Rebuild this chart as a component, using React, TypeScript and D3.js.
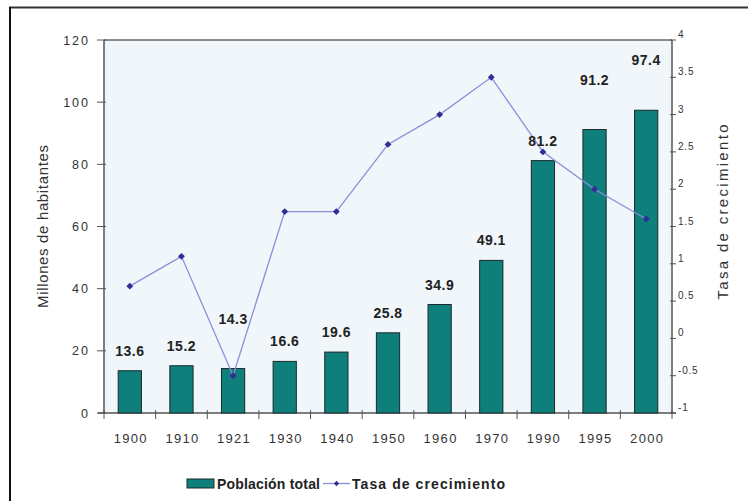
import React, { useEffect, useRef } from 'react'
import * as d3 from 'd3'

const years = ['1900', '1910', '1921', '1930', '1940', '1950', '1960', '1970', '1990', '1995', '2000']
const poblacion = [13.6, 15.2, 14.3, 16.6, 19.6, 25.8, 34.9, 49.1, 81.2, 91.2, 97.4]
const tasa = [0.7, 1.1, -0.5, 1.7, 1.7, 2.6, 3.0, 3.5, 2.5, 2.0, 1.6]
const leftTicks = [0, 20, 40, 60, 80, 100, 120]
const rightTicks = [-1, -0.5, 0, 0.5, 1, 1.5, 2, 2.5, 3, 3.5, 4]

const W = 748
const H = 501
const FONT = '"Liberation Sans", Arial, sans-serif'

export default function App() {
  const svgRef = useRef<SVGSVGElement>(null)

  useEffect(() => {
    const svg = d3.select(svgRef.current)
    svg.selectAll('*').remove()

    const m = { top: 40, right: 76, bottom: 88, left: 104 }
    const x0 = m.left, x1 = W - m.right, y0 = H - m.bottom, y1 = m.top

    const x = d3.scaleBand().domain(years).range([x0, x1]).paddingInner(0.55).paddingOuter(0.275)
    const xCell = d3.scaleBand().domain(years).range([x0, x1])
    const yL = d3.scaleLinear().domain([0, 120]).range([y0, y1])
    const yR = d3.scaleLinear().domain([-1, 4]).range([y0, y1])

    // outer frame (top + left only)
    svg.append('line').attr('x1', 9).attr('x2', W).attr('y1', 7.5).attr('y2', 7.5)
      .attr('stroke', '#333').attr('stroke-width', 2)
    svg.append('line').attr('x1', 10).attr('x2', 10).attr('y1', 7).attr('y2', H)
      .attr('stroke', '#111').attr('stroke-width', 2)

    // plot area
    svg.append('rect').attr('x', x0).attr('y', y1).attr('width', x1 - x0).attr('height', y0 - y1)
      .attr('fill', '#F0F6F9')
    svg.append('line').attr('x1', x0).attr('x2', x1).attr('y1', y1).attr('y2', y1)
      .attr('stroke', '#666').attr('stroke-width', 1.5)

    // left axis
    const gl = svg.append('g')
    gl.append('line').attr('x1', x0).attr('x2', x0).attr('y1', y1).attr('y2', y0).attr('stroke', '#555').attr('stroke-width', 1.5)
    leftTicks.forEach(t => {
      gl.append('line').attr('x1', x0 - 7).attr('x2', x0 + 2).attr('y1', yL(t)).attr('y2', yL(t)).attr('stroke', '#555')
      gl.append('text').attr('x', x0 - 14).attr('y', yL(t) + 4.5).attr('text-anchor', 'end')
        .attr('font-size', 12.5).attr('letter-spacing', 2).attr('fill', '#333').text(t)
    })
    gl.append('text').attr('transform', `translate(48,${(y0 + y1) / 2}) rotate(-90)`)
      .attr('text-anchor', 'middle').attr('font-size', 15).attr('fill', '#333')
      .attr('textLength', 163).attr('lengthAdjust', 'spacing').text('Millones de habitantes')

    // right axis
    const gr = svg.append('g')
    gr.append('line').attr('x1', x1).attr('x2', x1).attr('y1', y1).attr('y2', y0).attr('stroke', '#555').attr('stroke-width', 1.5)
    rightTicks.forEach(t => {
      gr.append('line').attr('x1', x1 - 2).attr('x2', x1 + 4).attr('y1', yR(t)).attr('y2', yR(t)).attr('stroke', '#555')
      gr.append('text').attr('x', x1 + 6).attr('y', yR(t) - 2).attr('font-size', 10)
        .attr('letter-spacing', 0.8).attr('fill', '#333').text(String(t))
    })
    gr.append('text').attr('transform', `translate(728,${212}) rotate(-90)`)
      .attr('text-anchor', 'middle').attr('font-size', 15).attr('fill', '#333')
      .attr('textLength', 175).attr('lengthAdjust', 'spacing').text('Tasa de crecimiento')

    // bottom axis
    const gb = svg.append('g')
    gb.append('line').attr('x1', x0 - 6).attr('x2', x1 + 4).attr('y1', y0).attr('y2', y0).attr('stroke', '#555').attr('stroke-width', 1.5)
    const bounds = years.map(y => xCell(y) as number).concat([x1])
    bounds.forEach(b => {
      gb.append('line').attr('x1', b).attr('x2', b).attr('y1', y0 - 3).attr('y2', y0 + 6).attr('stroke', '#555')
    })
    years.forEach(yr => {
      gb.append('text').attr('x', (xCell(yr) as number) + xCell.bandwidth() / 2 + 1).attr('y', y0 + 30)
        .attr('text-anchor', 'middle').attr('font-size', 13).attr('letter-spacing', 1.3).attr('fill', '#333').text(yr)
    })

    // bars
    svg.append('g').selectAll('rect').data(poblacion).join('rect')
      .attr('x', (_, i) => x(years[i]) as number)
      .attr('y', d => yL(d))
      .attr('width', x.bandwidth())
      .attr('height', d => y0 - yL(d))
      .attr('fill', '#0F7F7B').attr('stroke', '#1a2a2a').attr('stroke-width', 1)

    // line
    const cx = (i: number) => (xCell(years[i]) as number) + xCell.bandwidth() / 2
    const line = d3.line<number>().x((_, i) => cx(i)).y(d => yR(d))
    svg.append('path').datum(tasa).attr('d', line).attr('fill', 'none')
      .attr('stroke', '#8C8CDA').attr('stroke-width', 1.3)
    svg.append('g').selectAll('path').data(tasa).join('path')
      .attr('d', d3.symbol().type(d3.symbolDiamond2).size(30))
      .attr('transform', (d, i) => `translate(${cx(i)},${yR(d)})`)
      .attr('fill', '#2E2E96')

    // value labels
    svg.append('g').selectAll('text').data(poblacion).join('text')
      .attr('x', (_, i) => cx(i))
      .attr('y', (d, i) => {
        const top = yL(d)
        const lift = yR(tasa[i]) > top ? 30 : 0
        return top - 15 - lift
      })
      .attr('text-anchor', 'middle').attr('font-size', 14).attr('font-weight', 'bold')
      .attr('letter-spacing', 0.5).attr('fill', '#222')
      .text(d => d.toFixed(1))

    // legend
    const lg = svg.append('g')
    lg.append('rect').attr('x', 187).attr('y', 479).attr('width', 27).attr('height', 9)
      .attr('fill', '#0F7F7B').attr('stroke', '#1a2a2a')
    lg.append('text').attr('x', 217).attr('y', 489).attr('font-size', 14).attr('font-weight', 'bold')
      .attr('fill', '#222').attr('textLength', 103).attr('lengthAdjust', 'spacing').text('Población total')
    lg.append('line').attr('x1', 323).attr('x2', 350).attr('y1', 483.5).attr('y2', 483.5)
      .attr('stroke', '#8C8CDA').attr('stroke-width', 1.3)
    lg.append('path').attr('d', d3.symbol().type(d3.symbolDiamond2).size(18)()).attr('transform', 'translate(336.5,483.5)')
      .attr('fill', '#2E2E96')
    lg.append('text').attr('x', 352).attr('y', 489).attr('font-size', 14).attr('font-weight', 'bold')
      .attr('fill', '#222').attr('textLength', 153).attr('lengthAdjust', 'spacing').text('Tasa de crecimiento')
  }, [])

  return (
    <svg ref={svgRef} width={W} height={H}
      style={{ position: 'absolute', left: 0, top: 0, background: '#fff', fontFamily: FONT }} />
  )
}
